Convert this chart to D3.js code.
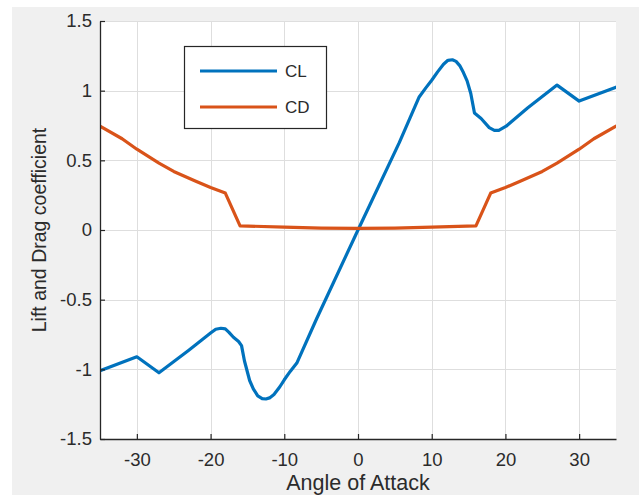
<!DOCTYPE html>
<html>
<head>
<meta charset="utf-8">
<script src="https://cdn.jsdelivr.net/npm/d3@7"></script>
<style>
  html, body { margin: 0; padding: 0; background: #ffffff; }
  svg { display: block; font-family: "Liberation Sans", Arial, Helvetica, sans-serif; }
</style>
</head>
<body>
<svg id="chart" width="639" height="495"></svg>
<script>
// ---- data ----
const clAngles = [-35, -30, -27, -23, -20, -19.3, -18.6, -18, -17.5, -16.9, -16.2, -15.8, -15.4, -14.7, -14.2, -13.6, -13, -12.5, -12, -11.4, -10.6, -10, -9.2, -8.3, -5.6, 0,
                  5.6, 8.3, 9.2, 10, 10.8, 11.6, 12.2, 12.8, 13.3, 13.8, 14.3, 14.8, 15.3, 15.8, 16.7, 17.8, 18.5, 19.1, 20.1, 23, 27, 30, 35];
const clValues = [-1.01, -0.91, -1.025, -0.865, -0.74, -0.712, -0.705, -0.71, -0.735, -0.77, -0.8, -0.83, -0.94, -1.08, -1.14, -1.19, -1.21, -1.213, -1.205, -1.18, -1.125, -1.075, -1.015, -0.955, -0.635, 0,
                  0.627, 0.955, 1.02, 1.075, 1.135, 1.19, 1.218, 1.222, 1.21, 1.18, 1.13, 1.07, 0.98, 0.84, 0.8, 0.735, 0.715, 0.715, 0.745, 0.875, 1.04, 0.925, 1.025];
const cdAngles = [-35, -32, -30, -27, -25, -22, -20, -18, -16, -10, -5, 0, 5, 10, 16, 18, 20, 22, 25, 27, 30, 32, 35];
const cdValues = [0.745, 0.655, 0.58, 0.48, 0.42, 0.35, 0.305, 0.265, 0.03, 0.02, 0.014, 0.012, 0.014, 0.02, 0.03, 0.265, 0.305, 0.35, 0.42, 0.48, 0.58, 0.655, 0.745];
const xTicks = [-30, -20, -10, 0, 10, 20, 30];
const yTicks = [-1.5, -1, -0.5, 0, 0.5, 1, 1.5];
const seriesNames = ["CL", "CD"];
const seriesColors = ["#0072BD", "#D95319"];
const xLabel = "Angle of Attack";
const yLabel = "Lift and Drag coefficient";

// ---- layout ----
const svg = d3.select("#chart");
const W = 639, H = 495;
const plot = { left: 100, right: 616, top: 21, bottom: 439 };

svg.append("rect").attr("x", 0).attr("y", 0).attr("width", W).attr("height", H).attr("fill", "#ffffff");
svg.append("rect").attr("x", 12).attr("y", 7).attr("width", W - 12).attr("height", H - 7).attr("fill", "#f0f0f0");
svg.append("rect").attr("x", plot.left).attr("y", plot.top)
   .attr("width", plot.right - plot.left).attr("height", plot.bottom - plot.top).attr("fill", "#ffffff");

const x = d3.scaleLinear().domain([-35, 35]).range([plot.left, plot.right]);
const y = d3.scaleLinear().domain([-1.5, 1.5]).range([plot.bottom, plot.top]);

// grid
const grid = svg.append("g").attr("stroke", "#dedede").attr("stroke-width", 1);
grid.selectAll("line.gx").data(xTicks).join("line")
  .attr("x1", d => Math.round(x(d)) + 0.5).attr("x2", d => Math.round(x(d)) + 0.5)
  .attr("y1", plot.top).attr("y2", plot.bottom);
grid.selectAll("line.gy").data(yTicks).join("line")
  .attr("y1", d => Math.round(y(d)) + 0.5).attr("y2", d => Math.round(y(d)) + 0.5)
  .attr("x1", plot.left).attr("x2", plot.right);

// series
const line = d3.line().x(d => x(d[0])).y(d => y(d[1])).curve(d3.curveLinear);
const clData = clAngles.map((a, i) => [a, clValues[i]]);
const cdData = cdAngles.map((a, i) => [a, cdValues[i]]);
svg.append("clipPath").attr("id", "clip").append("rect")
  .attr("x", plot.left).attr("y", plot.top).attr("width", plot.right - plot.left).attr("height", plot.bottom - plot.top);
[clData, cdData].forEach((data, i) => {
  svg.append("path").datum(data)
    .attr("d", line)
    .attr("fill", "none")
    .attr("stroke", seriesColors[i])
    .attr("stroke-width", 3.2)
    .attr("stroke-linejoin", "round")
    .attr("stroke-linecap", "round")
    .attr("clip-path", "url(#clip)");
});

// axes
const axisColor = "#262626";
const fmt = d => String(d);
const xAxis = svg.append("g").attr("transform", `translate(0,${plot.bottom})`)
  .call(d3.axisBottom(x).tickValues(xTicks).tickFormat(fmt).tickSizeInner(-5).tickSizeOuter(0).tickPadding(14));
const yAxis = svg.append("g").attr("transform", `translate(${plot.left},0)`)
  .call(d3.axisLeft(y).tickValues(yTicks).tickFormat(fmt).tickSizeInner(-5).tickSizeOuter(0).tickPadding(8));
[xAxis, yAxis].forEach(g => {
  g.select(".domain").attr("stroke", axisColor).attr("stroke-width", 1.3);
  g.selectAll(".tick line").attr("stroke", axisColor).attr("stroke-width", 1.2);
  g.selectAll(".tick text").attr("fill", "#2b2b2b").attr("font-size", 18.5)
    .attr("font-family", "'Liberation Sans', Arial, sans-serif");
});

// axis labels
svg.append("text").attr("x", (plot.left + plot.right) / 2).attr("y", 489.5)
  .attr("text-anchor", "middle").attr("fill", "#2b2b2b").attr("font-size", 21.5).text(xLabel);
svg.append("text").attr("transform", `translate(46,230) rotate(-90)`)
  .attr("text-anchor", "middle").attr("fill", "#2b2b2b").attr("font-size", 19.5).text(yLabel);

// legend
const lg = svg.append("g");
lg.append("rect").attr("x", 184.5).attr("y", 46.5).attr("width", 142).attr("height", 82)
  .attr("fill", "#ffffff").attr("stroke", "#262626").attr("stroke-width", 1.2);
seriesNames.forEach((name, i) => {
  const yy = 71 + i * 36;
  lg.append("line").attr("x1", 200).attr("x2", 277).attr("y1", yy).attr("y2", yy)
    .attr("stroke", seriesColors[i]).attr("stroke-width", 3.2);
  lg.append("text").attr("x", 285).attr("y", yy).attr("dy", "0.35em")
    .attr("fill", "#2b2b2b").attr("font-size", 17).text(name);
});
</script>
</body>
</html>
